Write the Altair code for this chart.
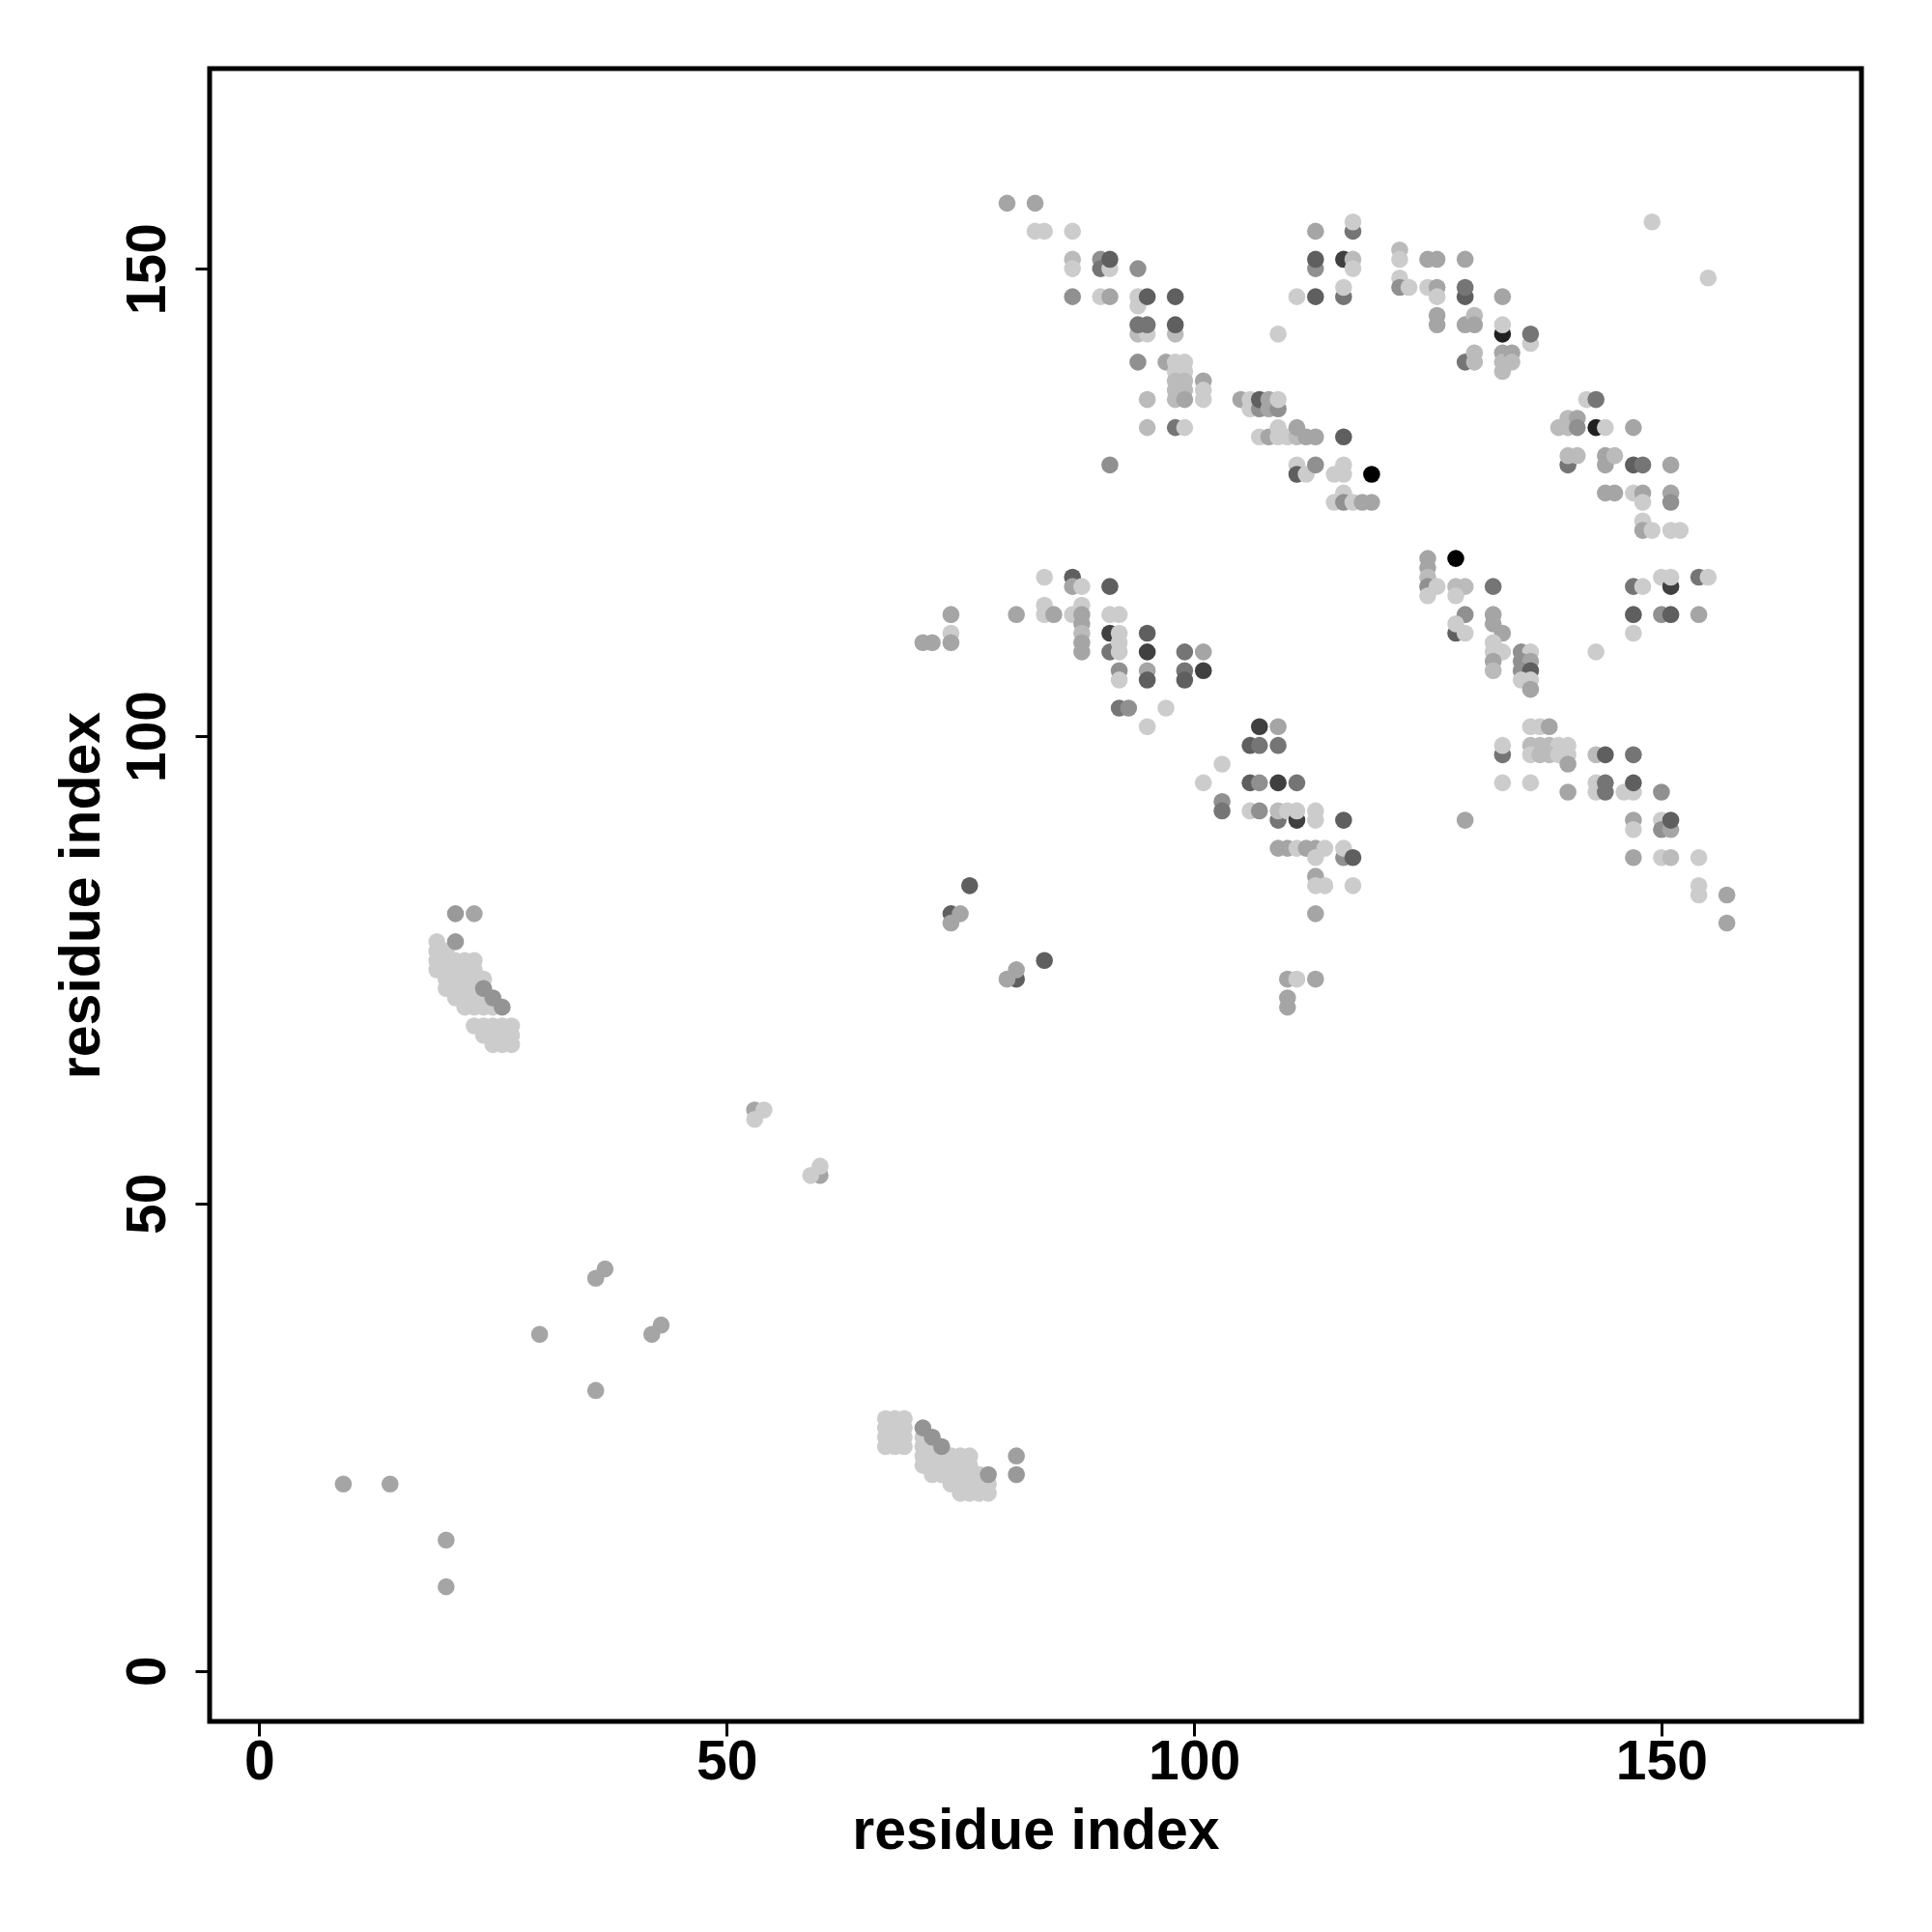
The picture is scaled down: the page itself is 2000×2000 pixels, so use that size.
import altair as alt
import pandas as pd

# contacts as (residue i, residue j, darkness 0..1)
upper_left = [
    (80,157,.22),(83,157,.22),
    (83,154,.04),(84,154,.04),(87,154,.04),
    (87,151,.12),(87,150,.04),
    (90,151,.32),(90,150,.45),(91,150,.04),(91,151,.55),
    (94,150,.32),
    (87,147,.32),(90,147,.04),(91,147,.22),
    (94,147,.04),(94,146,.04),(95,147,.55),
    (94,143,.12),(95,143,.04),(94,144,.45),(95,144,.45),
    (94,140,.32),(95,136,.12),(95,133,.12),(91,129,.32),
    (98,147,.55),(98,143,.12),(98,144,.55),
    (97,140,.22),(98,140,.04),(99,140,.04),
    (98,139,.04),(99,139,.04),(98,138,.12),(99,138,.12),(101,138,.22),(101,137,.04),
    (98,137,.12),(99,137,.12),(98,136,.12),(99,136,.22),(101,136,.04),
    (98,133,.45),(99,133,.04),
]
upper_mid = [
    (105,136,.22),(106,136,.04),(106,135,.04),(107,135,.32),(107,136,.55),
    (108,136,.22),(108,135,.22),(109,135,.32),(109,136,.04),
    (107,132,.04),(108,132,.22),(109,133,.04),(109,132,.04),(110,132,.04),
    (111,132,.12),(111,133,.22),(112,132,.22),(113,132,.22),(116,132,.55),
    (111,129,.04),(111,128,.55),(112,128,.04),(113,129,.32),(115,128,.04),
    (116,129,.04),(116,128,.04),(119,128,1.0),
    (115,125,.04),(116,126,.04),(116,125,.32),(117,125,.04),(118,125,.22),(119,125,.22),
    (113,154,.22),(117,154,.45),(117,155,.04),
    (113,150,.32),(113,151,.55),(116,151,.70),(117,151,.12),(117,150,.04),
    (111,147,.04),(113,147,.55),(116,147,.45),(116,148,.04),
    (109,143,.04),
]
upper_right = [
    (122,152,.12),(122,151,.04),(122,149,.04),(122,148,.32),(123,148,.04),
    (125,151,.22),(126,151,.22),(125,148,.04),(126,148,.22),(126,147,.04),
    (126,145,.22),(126,144,.22),
    (129,151,.22),(129,147,.55),(129,148,.45),(133,147,.22),
    (129,144,.22),(130,145,.12),(130,144,.22),
    (133,143,.85),(133,144,.04),(136,142,.04),(136,143,.45),
    (129,140,.45),(130,141,.12),(130,140,.12),
    (133,141,.22),(133,140,.12),(133,139,.12),(134,141,.22),(134,140,.12),
    (149,155,.04),(155,149,.04),
]
right_upper = [
    (142,136,.04),(143,136,.45),
    (139,133,.12),(140,134,.12),(140,133,.12),(141,134,.22),(141,133,.32),
    (143,133,.85),(144,133,.04),(147,133,.22),
    (140,129,.45),(140,130,.12),(141,130,.12),
    (144,129,.22),(144,130,.22),(145,130,.12),
    (147,129,.55),(148,129,.45),(151,129,.22),
    (144,126,.22),(145,126,.22),
    (147,126,.04),(148,126,.22),(148,125,.04),
    (151,126,.22),(151,125,.32),
    (148,123,.04),(148,122,.22),(149,122,.04),(151,122,.04),(152,122,.04),
]
right_mid = [
    (125,119,.22),(125,118,.22),(125,117,.12),(125,116,.32),(125,115,.04),(126,116,.04),
    (128,119,1.0),
    (128,116,.12),(129,116,.12),(128,115,.04),(132,116,.45),
    (129,113,.32),(128,111,.55),(128,112,.04),(129,111,.04),
    (132,113,.22),(132,112,.22),(133,111,.22),(132,110,.04),(132,109,.04),(133,109,.04),
    (132,108,.22),(132,107,.12),
    (135,109,.32),(136,109,.04),(135,108,.32),(136,108,.22),(135,107,.32),(136,107,.55),
    (135,106,.04),(136,106,.04),(136,105,.22),
    (143,109,.04),
    (147,116,.45),(148,116,.04),(150,117,.04),(151,116,.70),(151,117,.04),
    (154,117,.45),(155,117,.04),
    (147,113,.55),(150,113,.32),(151,113,.55),(154,113,.22),(147,111,.04),
]
right_lower = [
    (136,101,.04),(137,101,.04),(138,101,.22),
    (133,98,.45),(133,99,.04),
    (136,99,.12),(137,99,.12),(138,99,.12),(139,99,.04),(140,99,.04),
    (136,98,.04),(137,98,.12),(138,98,.12),(139,98,.04),(140,98,.04),(140,97,.22),
    (143,98,.12),(144,98,.55),(147,98,.45),
    (133,95,.04),(136,95,.04),(140,94,.22),
    (143,95,.04),(143,94,.04),(144,95,.45),(144,94,.45),
    (146,94,.04),(147,94,.04),(147,95,.55),(150,94,.32),
    (129,91,.22),
    (147,91,.22),(147,90,.04),(150,91,.04),(150,90,.32),(151,90,.22),(151,91,.55),
    (147,87,.22),(150,87,.04),(151,87,.12),(154,87,.04),
    (154,84,.04),(154,83,.04),(157,83,.22),(157,80,.22),
]
mid_left = [
    (84,117,.04),(87,117,.55),(87,116,.22),(88,116,.04),(91,116,.55),
    (74,113,.22),(71,110,.22),(72,110,.22),(74,111,.04),(74,110,.22),
    (81,113,.22),
    (84,114,.04),(84,113,.04),(85,113,.22),(87,113,.04),
    (88,114,.04),(88,113,.22),(88,112,.22),(88,111,.12),(88,110,.22),(88,109,.22),
    (91,113,.04),(92,113,.04),
    (91,111,.70),(92,111,.04),(91,109,.45),(92,110,.04),(92,109,.04),
    (92,107,.32),(92,106,.04),
    (95,111,.55),(95,109,.70),(95,107,.22),(95,106,.55),
    (99,109,.45),(101,109,.22),(99,107,.45),(99,106,.55),(101,107,.70),
    (92,103,.45),(93,103,.32),(97,103,.04),(95,101,.04),
]
center = [
    (107,101,.70),(109,101,.22),
    (106,99,.55),(107,99,.45),(109,99,.45),
    (103,97,.04),(101,95,.04),
    (106,95,.55),(107,95,.32),(109,95,.70),(111,95,.45),
    (103,93,.32),(103,92,.45),
    (106,92,.04),(107,92,.32),
    (109,91,.45),(109,92,.12),(110,92,.04),(111,91,.70),(111,92,.04),
    (113,92,.04),(113,91,.04),(116,91,.55),
    (109,88,.22),(110,88,.22),(111,88,.04),(112,88,.22),(113,88,.22),(114,88,.04),(113,87,.04),
    (116,87,.32),(116,88,.04),(117,87,.55),
    (113,85,.22),(113,84,.04),(114,84,.04),(117,84,.04),
    (113,81,.22),
    (110,74,.22),(111,74,.04),(113,74,.22),(110,72,.22),(110,71,.22),
]
small_group = [
    (76,84,.55),(74,81,.55),(75,81,.22),(74,80,.22),
    (84,76,.55),(81,74,.55),(81,75,.22),(80,74,.22),
]
lower_left = [
    (9,20,.22),(14,20,.22),(20,14,.22),(20,9,.22),
    (30,36,.22),(36,42,.22),(37,43,.22),(36,30,.22),(42,36,.22),(43,37,.22),
    (53,60,.22),(53,59,.04),(54,60,.04),(60,53,.22),(59,53,.04),(60,54,.04),
]
sheet_a = [
    (19,75,.04),(19,76,.04),(19,77,.04),(19,78,.04),
    (20,73,.04),(20,74,.04),(20,75,.04),(20,76,.04),(20,77,.04),
    (21,72,.04),(21,73,.04),(21,74,.04),(21,75,.04),(21,76,.04),
    (22,71,.04),(22,72,.04),(22,73,.04),(22,74,.04),(22,75,.04),(22,76,.04),
    (23,71,.04),(23,72,.04),(23,73,.04),(23,74,.04),(23,75,.04),(23,76,.04),
    (24,71,.04),(24,72,.04),(24,74,.04),(25,71,.04),
    (23,69,.04),(24,69,.04),(25,69,.04),(26,69,.04),(27,69,.04),
    (24,68,.04),(25,68,.04),(26,68,.04),(27,68,.04),
    (25,67,.04),(26,67,.04),(27,67,.04),
    (21,81,.28),(23,81,.22),(21,78,.28),
    (24,73,.30),(25,72,.30),(26,71,.30),
]
sheet_b = [
    (67,24,.04),(67,25,.04),(67,26,.04),(67,27,.04),
    (68,24,.04),(68,25,.04),(68,26,.04),(68,27,.04),
    (69,24,.04),(69,25,.04),(69,26,.04),(69,27,.04),
    (71,22,.04),(71,23,.04),(71,24,.04),(71,25,.04),
    (72,21,.04),(72,22,.04),(72,23,.04),(72,24,.04),
    (73,21,.04),(73,22,.04),(73,23,.04),
    (74,20,.04),(74,21,.04),(74,22,.04),(74,23,.04),
    (75,19,.04),(75,20,.04),(75,21,.04),(75,22,.04),(75,23,.04),
    (76,19,.04),(76,20,.04),(76,21,.04),(76,22,.04),(76,23,.04),
    (77,19,.04),(77,20,.04),(77,21,.04),
    (78,19,.04),(78,20,.04),
    (71,26,.30),(72,25,.30),(73,24,.30),
    (78,21,.28),(81,23,.25),(81,21,.28),
]

groups = [lower_left, sheet_a, sheet_b, small_group, mid_left, center,
          upper_left, upper_mid, upper_right, right_upper, right_mid, right_lower]
rows = [dict(i=a, j=b, shade=s) for g in groups for (a, b, s) in g]
df = pd.DataFrame(rows)

FONT = "Liberation Sans"
common = dict(
    grid=False, domain=False, ticks=True, tickSize=15, tickWidth=3, tickColor="black",
    labelFont=FONT, labelFontSize=57, labelFontWeight="bold", labelColor="black",
    labelFlush=False, labelOverlap=False, format="d", values=[0, 50, 100, 150],
    title="residue index", titleFont=FONT, titleFontSize=59, titleFontWeight="bold",
    titleColor="black", titleBaseline="alphabetic",
)

chart = alt.Chart(df).mark_circle(size=310, opacity=1).encode(
    x=alt.X("i:Q", scale=alt.Scale(domain=[-5.3, 171.4], nice=False, zero=False),
            axis=alt.Axis(labelBaseline="alphabetic", labelPadding=44, titleY=131, **common)),
    y=alt.Y("j:Q", scale=alt.Scale(domain=[-5.4, 171.4], nice=False, zero=False),
            axis=alt.Axis(labelAngle=270, labelAlign="center", labelBaseline="alphabetic",
                          labelPadding=32, titleAngle=270, titleAlign="center", titleX=-115, **common)),
    color=alt.Color("shade:Q", scale=alt.Scale(domain=[0, 1], range=["#d4d4d4", "#000000"],
                                               interpolate="rgb"), legend=None),
).properties(
    width=1710, height=1711,
    padding={"left": 209, "top": 63, "right": 60, "bottom": 200},
    autosize=alt.AutoSizeParams(type="none"),
    background="white",
).configure_view(stroke="black", strokeWidth=5)

chart.save("out.html", embed_options={"renderer": "svg", "actions": False})
